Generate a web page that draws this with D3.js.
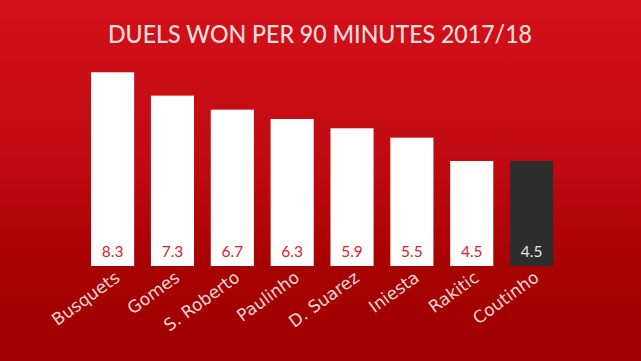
<!DOCTYPE html>
<html><head><meta charset="utf-8">
<script src="https://cdn.jsdelivr.net/npm/d3@7"></script>
<style>html,body{margin:0;padding:0;overflow:hidden;background:#a00000}</style>
</head><body><svg id="c" width="641" height="361"></svg>
<script>
const title = "DUELS WON PER 90 MINUTES 2017/18";
const players = ["Busquets","Gomes","S. Roberto","Paulinho","D. Suarez","Iniesta","Rakitic","Coutinho"];
const duels = [8.3,7.3,6.7,6.3,5.9,5.5,4.5,4.5];
const highlight = ["Coutinho"];

const svg = d3.select("#c");
const W = 641, H = 361;
const defs = svg.append("defs");
const g = defs.append("linearGradient").attr("id","bg").attr("x1",0).attr("y1",0).attr("x2",0).attr("y2",1);
g.append("stop").attr("offset","0%").attr("stop-color","#d3111a");
g.append("stop").attr("offset","45%").attr("stop-color","#c00a11");
g.append("stop").attr("offset","75%").attr("stop-color","#a60202");
g.append("stop").attr("offset","100%").attr("stop-color","#a00000");
svg.append("rect").attr("width",W).attr("height",H).attr("fill","url(#bg)");

svg.append("text").attr("x",320).attr("y",43)
  .attr("text-anchor","middle")
  .attr("font-family","Lato, 'Noto Sans', sans-serif")
  .attr("font-size",25).attr("font-weight",500)
  .attr("fill","#f6dcdc")
  .attr("textLength",424).attr("lengthAdjust","spacingAndGlyphs")
  .text(title);

const x = d3.scaleBand().domain(players).range([75.5, 553+15.7]).paddingInner(0.28).paddingOuter(0.26);
const y = d3.scaleLinear().domain([0, 8.3]).range([266, 72.3]);

const bars = svg.append("g");
bars.selectAll("rect").data(players).join("rect")
  .attr("x", d => x(d)).attr("width", x.bandwidth())
  .attr("y", (d,i) => y(duels[i])).attr("height", (d,i) => y(0) - y(duels[i]))
  .attr("fill", d => highlight.includes(d) ? "#2d2d2d" : "#ffffff");

bars.selectAll("text").data(players).join("text")
  .attr("x", d => x(d) + x.bandwidth()/2)
  .attr("y", 256.5)
  .attr("text-anchor","middle")
  .attr("font-family","Lato, 'Noto Sans', sans-serif")
  .attr("font-size",15.5)
  .attr("fill", d => highlight.includes(d) ? "#e6e6e6" : "#d8222c")
  .text((d,i) => d3.format(".1f")(duels[i]));

const labels = svg.append("g");
labels.selectAll("text").data(players).join("text")
  .attr("transform", d => `translate(${x(d) + x.bandwidth()/2 + 8.5},${280}) rotate(-36)`)
  .attr("text-anchor","end")
  .attr("font-family","'DejaVu Sans', Verdana, sans-serif")
  .attr("font-size",17)
  .attr("fill","#f3d6d6")
  .text(d => d);
</script></body></html>
